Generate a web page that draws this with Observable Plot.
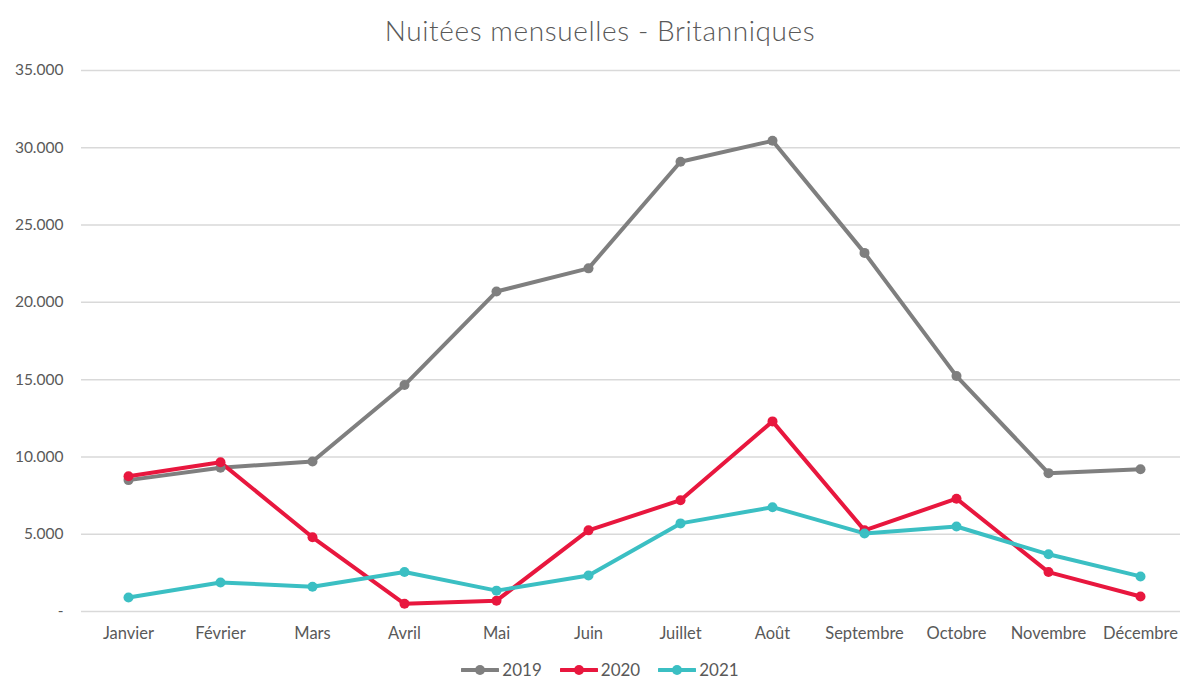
<!DOCTYPE html>
<html><head><meta charset="utf-8">
<script src="https://cdn.jsdelivr.net/npm/d3@7"></script>
<script src="https://cdn.jsdelivr.net/npm/@observablehq/plot@0.6"></script>
<style>
html,body{margin:0;padding:0;background:#fff;overflow:hidden;width:1180px;height:680px;font-family:Lato,"Open Sans",sans-serif;}
#wrap{position:relative;width:1180px;height:680px;overflow:hidden;}
#title{position:absolute;left:0;width:1200px;top:13px;text-align:center;font-size:28px;color:#595959;font-weight:300;letter-spacing:0.6px;}
#chart{position:absolute;left:0;top:0;}
#chart svg{max-width:none !important;}
#legend{position:absolute;top:659px;left:0;width:1200px;display:flex;justify-content:center;gap:18px;font-size:17px;color:#595959;}
.item{display:flex;align-items:center;gap:3px;}
</style></head>
<body><div id="wrap"><div id="title">Nuitées mensuelles - Britanniques</div><div id="chart"></div><div id="legend"></div></div>
<script>
const months = ["Janvier","Février","Mars","Avril","Mai","Juin","Juillet","Août","Septembre","Octobre","Novembre","Décembre"];
const seriesNames = ["2019","2020","2021"];
const values2019 = [8500,9300,9700,14650,20700,22200,29100,30450,23200,15230,8950,9200];
const values2020 = [8750,9650,4800,500,700,5250,7200,12300,5250,7300,2550,970];
const values2021 = [900,1880,1600,2550,1350,2330,5700,6750,5050,5500,3700,2270];
const colors = ["#7f7f7f","#e8173e","#3bbfc3"];
const yTicks = [0,5000,10000,15000,20000,25000,30000,35000];

const allValues = [values2019, values2020, values2021];
const data = [];
seriesNames.forEach((s,i)=>months.forEach((m,j)=>data.push({series:s, month:m, value:allValues[i][j]})));

const fmt = d => d === 0 ? "-" : d3.format(",")(d).replace(/,/g, ".");

const chart = Plot.plot({
  width: 1186, height: 650,
  marginTop: 70, marginBottom: 39, marginLeft: 81, marginRight: 0,
  style: {fontFamily: "Lato, 'Open Sans', sans-serif", fontSize: "15.5px", color: "#595959", background: "transparent", maxWidth: "none"},
  x: {type: "band", domain: months, padding: 0, label: null, tickSize: 0, tickPadding: 16},
  y: {domain: [0, 35000], ticks: yTicks, tickFormat: fmt, label: null, tickSize: 0, tickPadding: 18},
  color: {domain: seriesNames, range: colors},
  marks: [
    Plot.gridY(yTicks, {stroke: "#d9d9d9", strokeOpacity: 1, strokeWidth: 1.5}),
    Plot.axisX({tickSize: 0, tickPadding: 16, label: null, fill: "#595959", fontSize: 16.5}),
    Plot.axisY({ticks: yTicks, tickFormat: fmt, tickSize: 0, tickPadding: 18, label: null, fill: "#595959", fontSize: 15.5}),
    Plot.line(data, {x: "month", y: "value", z: "series", stroke: "series", strokeWidth: 4, strokeLinejoin: "round", strokeLinecap: "round"}),
    Plot.dot(data, {x: "month", y: "value", fill: "series", r: 5})
  ]
});
document.getElementById("chart").appendChild(chart);

const legend = document.getElementById("legend");
seriesNames.forEach((s,i)=>{
  const it = document.createElement("div"); it.className = "item";
  it.innerHTML = `<svg width="38" height="12"><line x1="1" y1="6" x2="37" y2="6" stroke="${colors[i]}" stroke-width="4" stroke-linecap="round"/><circle cx="19" cy="6" r="5" fill="${colors[i]}"/></svg><span>${s}</span>`;
  legend.appendChild(it);
});
</script></body></html>
